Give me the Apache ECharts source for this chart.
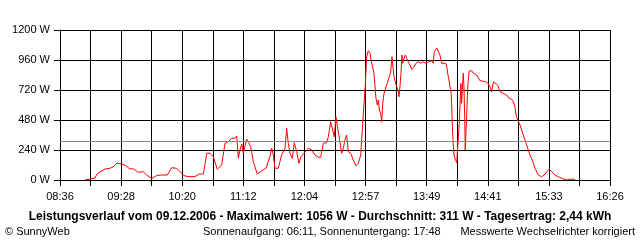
<!DOCTYPE html>
<html>
<head>
<meta charset="utf-8">
<script src="https://cdn.jsdelivr.net/npm/echarts@6/dist/echarts.min.js"></script>
<style>
html,body{margin:0;padding:0;background:#fff;}
#c{width:640px;height:240px;}
</style>
</head>
<body>
<div id="c"></div>
<script>
// Axis range (minutes since midnight): 08:36 .. 16:26
const axisStartMin = 516;
const axisEndMin = 986;
const yTicks = [0, 240, 480, 720, 960, 1200];
const averageW = 311;

// Measurement times (minutes since midnight) and power values (W)
const minuteOfDay = [
  537.4, 539.1, 545.9, 547.6, 550.2, 554.5, 558.7, 561.3, 564.4, 568.7,
  571.5, 575.8, 578.6, 580.1, 582.9, 587.2, 590.1, 594.4, 598.6, 602.9,
  607.7, 611.4, 615.7, 618.5, 622.8, 627.1, 631.4, 635.0, 638.5, 641.4,
  644.2, 647.0, 650.4, 654.2, 657.0, 659.8, 662.7, 665.5, 667.0, 668.4,
  669.8, 671.3, 672.6, 674.1, 675.5, 676.9, 679.0, 681.2, 684.6, 688.4,
  692.0, 695.4, 696.9, 698.3, 699.7, 702.5, 705.4, 708.3, 709.7, 711.1,
  712.5, 714.5, 716.2, 718.3, 720.2, 721.9, 724.5, 726.2, 728.2, 731.1,
  733.9, 736.7, 738.8, 741.0, 743.9, 745.3, 747.3, 749.0, 750.4, 751.8,
  753.3, 754.7, 756.7, 758.1, 759.5, 761.0, 762.4, 764.4, 766.6, 768.9,
  770.9, 773.0, 774.3, 775.8, 776.9, 778.1, 779.4, 780.9, 782.4, 784.3,
  786.0, 787.2, 788.0, 788.9, 790.0, 790.9, 791.8, 792.9, 794.6, 795.7,
  797.4, 798.6, 799.7, 800.5, 801.4, 802.5, 803.7, 804.8, 805.7, 806.5,
  807.4, 808.2, 808.8, 810.0, 811.1, 812.3, 813.6, 815.1, 816.5, 818.5,
  820.2, 822.2, 824.2, 826.4, 828.7, 830.7, 833.6, 835.0, 835.8, 837.9,
  839.3, 840.7, 842.2, 843.5, 845.6, 846.4, 847.3, 848.4, 849.3, 850.1,
  850.7, 851.2, 851.8, 852.7, 853.5, 855.0, 855.8, 856.3, 857.2, 858.0,
  858.6, 859.2, 860.1, 860.6, 861.2, 861.8, 862.3, 862.9, 863.8, 864.6,
  865.7, 867.8, 869.2, 872.1, 874.9, 879.2, 881.5, 883.4, 884.9, 886.3,
  887.7, 890.0, 892.0, 894.8, 897.7, 899.7, 902.0, 903.4, 904.8, 905.7,
  907.1, 909.1, 911.9, 914.8, 917.6, 919.6, 921.9, 924.7, 927.6, 929.6,
  931.9, 934.1, 936.2, 939.0, 941.8, 944.7, 946.7, 949.0, 951.2, 956.1
];
const powerW = [
  0, 10, 16, 48, 66, 88, 94, 104, 134, 128,
  120, 88, 90, 96, 62, 66, 40, 10, 36, 40,
  40, 98, 94, 66, 32, 26, 28, 48, 48, 214,
  214, 186, 86, 120, 294, 306, 334, 334, 352, 174,
  240, 288, 214, 200, 326, 306, 266, 146, 48, 74,
  94, 186, 254, 200, 94, 94, 200, 254, 414, 294,
  214, 174, 298, 226, 134, 186, 214, 234, 254, 240,
  200, 182, 182, 294, 298, 346, 466, 400, 346, 506,
  414, 334, 214, 254, 320, 360, 226, 214, 160, 114,
  134, 200, 400, 614, 760, 986, 1034, 1014, 934, 854,
  654, 600, 640, 560, 534, 466, 614, 694, 706, 774,
  826, 866, 986, 906, 826, 786, 746, 720, 666, 746,
  854, 1000, 934, 974, 1000, 974, 946, 920, 886, 906,
  934, 946, 934, 946, 934, 946, 954, 934, 1026, 1056,
  1046, 1000, 934, 920, 934, 912, 854, 800, 746, 720,
  614, 454, 320, 200, 174, 138, 254, 320, 454, 640,
  774, 614, 774, 854, 746, 506, 240, 240, 586, 774,
  872, 874, 854, 840, 794, 788, 776, 746, 706, 786,
  782, 760, 706, 694, 680, 654, 646, 626, 586, 520,
  480, 440, 360, 280, 200, 160, 94, 40, 26, 40,
  66, 86, 66, 40, 26, 14, 6, 0, 6, 6
];

// Axis runs in grid steps (18 steps over the time range)
const STEP = (axisEndMin - axisStartMin) / 18;
const data = minuteOfDay.map((m, i) => [(m - axisStartMin) / STEP, powerW[i]]);

function fmtTime(v) {
  const m = Math.floor(axisStartMin + v * STEP + 1e-6);
  const h = Math.floor(m / 60), mm = m % 60;
  return String(h).padStart(2, '0') + ':' + String(mm).padStart(2, '0');
}

const FONT = '"Liberation Sans", Arial, sans-serif';
const chart = echarts.init(document.getElementById('c'), null, {renderer: 'canvas'});
chart.setOption({
  animation: false,
  backgroundColor: '#ffffff',
  grid: {left: 60, right: 30, top: 30, bottom: 60, containLabel: false},
  xAxis: {
    type: 'value', min: 0, max: 18, interval: 2,
    axisLine: {show: true, lineStyle: {color: '#000', width: 1}},
    axisTick: {show: true, length: 6, lineStyle: {color: '#000'}},
    minorTick: {show: true, splitNumber: 2, length: 6, lineStyle: {color: '#000'}},
    splitLine: {show: true, lineStyle: {color: '#000', width: 1}},
    minorSplitLine: {show: true, lineStyle: {color: '#000', width: 1}},
    axisLabel: {color: '#000', fontFamily: FONT, fontSize: 11, margin: 11, formatter: fmtTime}
  },
  yAxis: {
    type: 'value', min: yTicks[0], max: yTicks[yTicks.length - 1], interval: yTicks[1] - yTicks[0],
    axisLine: {show: true, lineStyle: {color: '#000', width: 1}},
    axisTick: {show: true, length: 6, lineStyle: {color: '#000'}},
    splitLine: {show: true, lineStyle: {color: '#000', width: 1}},
    axisLabel: {color: '#000', fontFamily: FONT, fontSize: 11, margin: 10, formatter: v => v + ' W'}
  },
  series: [{
    type: 'line',
    data: data,
    showSymbol: false,
    symbol: 'none',
    lineStyle: {color: '#ff0000', width: 1},
    itemStyle: {color: '#ff0000'},
    markLine: {
      silent: true,
      symbol: 'none',
      label: {show: false},
      lineStyle: {color: '#888888', width: 1, type: 'solid'},
      data: [{yAxis: averageW}]
    }
  }],
  graphic: [
    {type: 'text', left: 'center', top: 211, style: {text: 'Leistungsverlauf vom 09.12.2006 - Maximalwert: 1056 W - Durchschnitt: 311 W - Tagesertrag: 2,44 kWh', fontFamily: FONT, fontSize: 12, fontWeight: 'bold', fill: '#000'}},
    {type: 'text', left: 5, top: 226, style: {text: '© SunnyWeb', fontFamily: FONT, fontSize: 11, fill: '#000'}},
    {type: 'text', left: 203, top: 226, style: {text: 'Sonnenaufgang: 06:11, Sonnenuntergang: 17:48', fontFamily: FONT, fontSize: 11, fill: '#000'}},
    {type: 'text', right: 5, top: 226, style: {text: 'Messwerte Wechselrichter korrigiert', fontFamily: FONT, fontSize: 11, fill: '#000'}}
  ]
});
</script>
</body>
</html>
